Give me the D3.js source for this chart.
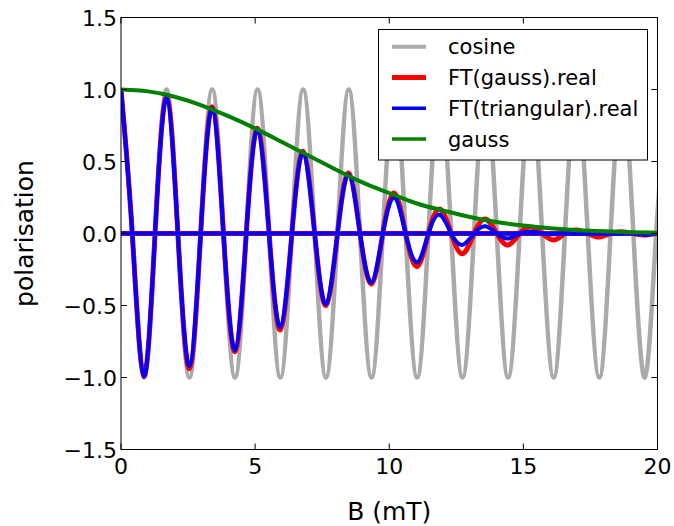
<!DOCTYPE html>
<html>
<head>
<meta charset="utf-8">
<script src="https://cdn.jsdelivr.net/npm/d3@7"></script>
<style>
  body { margin: 0; background: #fff; }
  text { font-family: "DejaVu Sans", sans-serif; fill: #000; }
</style>
</head>
<body>
<script>
// knots every quarter period of the cosine (B in mT)
const knotB = [0, 0.42, 0.85, 1.27, 1.70, 2.12, 2.55, 2.97, 3.40, 3.82, 4.25, 4.67, 5.09, 5.52, 5.94, 6.37,
  6.79, 7.22, 7.64, 8.07, 8.49, 8.91, 9.34, 9.76, 10.19, 10.61, 11.04, 11.46, 11.88, 12.31, 12.73, 13.16,
  13.58, 14.01, 14.43, 14.86, 15.28, 15.70, 16.13, 16.55, 16.98, 17.40, 17.83, 18.25, 18.68, 19.10, 19.53, 19.95, 20.38];

const cosineVals = [1, 0, -1, 0, 1, 0, -1, 0, 1, 0, -1, 0, 1, 0, -1, 0,
  1, 0, -1, 0, 1, 0, -1, 0, 1, 0, -1, 0, 1, 0, -1, 0,
  1, 0, -1, 0, 1, 0, -1, 0, 1, 0, -1, 0, 1, 0, -1, 0, 1];

const ftGaussVals = [1, 0, -0.99, 0, 0.95, 0, -0.94, 0, 0.88, 0, -0.82, 0, 0.73, 0, -0.67, 0,
  0.57, 0, -0.50, 0, 0.42, 0, -0.35, 0, 0.28, 0, -0.23, 0, 0.17, 0, -0.14, 0,
  0.10, 0, -0.08, 0, 0.045, 0, -0.045, 0, 0.025, 0, -0.025, 0, 0.012, 0, -0.01, 0, 0.005];

const ftTriVals = [1, 0, -0.99, 0, 0.94, 0, -0.92, 0, 0.87, 0, -0.81, 0, 0.72, 0, -0.65, 0,
  0.56, 0, -0.49, 0, 0.41, 0, -0.34, 0, 0.25, 0, -0.20, 0, 0.13, 0, -0.08, 0,
  0.05, 0, -0.035, 0, 0.012, 0, -0.005, 0, 0, 0, 0, 0, 0, 0, -0.01, 0, -0.01];

const gaussB = [0, 1, 2, 3, 4, 5, 6, 7, 8, 9, 10, 11, 12, 13, 14, 15, 16, 17, 18, 19, 20];
const gaussVals = [1.0, 0.987, 0.95, 0.89, 0.815, 0.73, 0.635, 0.54, 0.445, 0.355, 0.28,
  0.21, 0.16, 0.115, 0.08, 0.055, 0.036, 0.023, 0.015, 0.009, 0.006];

const zeroB = [0, 20];
const zeroVals = [0, 0];

const xTicks = [0, 5, 10, 15, 20];
const yTicks = [-1.5, -1.0, -0.5, 0.0, 0.5, 1.0, 1.5];

const legendNames = ["cosine", "FT(gauss).real", "FT(triangular).real", "gauss"];
const legendColors = ["#aaaaaa", "#ff0000", "#0000ff", "#008000"];
const legendWidths = [4, 5, 3.5, 3.5];

const width = 674, height = 526;
const margin = {left: 121, right: 16.5, top: 17.5, bottom: 76.5};

const svg = d3.select("body")
    .append("svg")
    .attr("width", width)
    .attr("height", height);

const x = d3.scaleLinear().domain([0, 20]).range([margin.left, width - margin.right]);
const y = d3.scaleLinear().domain([-1.5, 1.5]).range([height - margin.bottom, margin.top]);

svg.append("clipPath").attr("id", "plot-clip")
  .append("rect")
    .attr("x", x(0)).attr("y", y(1.5))
    .attr("width", x(20) - x(0)).attr("height", y(-1.5) - y(1.5));

const plot = svg.append("g").attr("clip-path", "url(#plot-clip)");

const line = d3.line()
    .x(d => x(d[0]))
    .y(d => y(d[1]))
    .curve(d3.curveNatural);

function drawSeries(bs, vals, color, w) {
  plot.append("path")
      .datum(d3.zip(bs, vals))
      .attr("fill", "none")
      .attr("stroke", color)
      .attr("stroke-width", w)
      .attr("stroke-linejoin", "round")
      .attr("d", line);
}

drawSeries(knotB, cosineVals, legendColors[0], legendWidths[0] + 0.5);
drawSeries(zeroB, zeroVals, legendColors[1], legendWidths[1]);
drawSeries(knotB, ftGaussVals, legendColors[1], legendWidths[1]);
drawSeries(zeroB, zeroVals, legendColors[2], legendWidths[2] + 0.5);
drawSeries(knotB, ftTriVals, legendColors[2], legendWidths[2] + 0.5);
drawSeries(gaussB, gaussVals, legendColors[3], legendWidths[3] + 0.5);

// frame and inward ticks on all four sides
const frame = svg.append("g").attr("stroke", "#000").attr("stroke-width", 1).attr("fill", "none");
frame.append("rect")
    .attr("x", x(0)).attr("y", y(1.5))
    .attr("width", x(20) - x(0)).attr("height", y(-1.5) - y(1.5));

const tickLen = 6;
xTicks.forEach(t => {
  frame.append("line").attr("x1", x(t)).attr("x2", x(t)).attr("y1", y(-1.5)).attr("y2", y(-1.5) - tickLen);
  frame.append("line").attr("x1", x(t)).attr("x2", x(t)).attr("y1", y(1.5)).attr("y2", y(1.5) + tickLen);
});
yTicks.forEach(t => {
  frame.append("line").attr("x1", x(0)).attr("x2", x(0) + tickLen).attr("y1", y(t)).attr("y2", y(t));
  frame.append("line").attr("x1", x(20)).attr("x2", x(20) - tickLen).attr("y1", y(t)).attr("y2", y(t));
});

const fmt = d3.format(".1f");

svg.append("g").selectAll("text")
  .data(xTicks)
  .join("text")
    .attr("x", d => x(d))
    .attr("y", y(-1.5) + 24)
    .attr("text-anchor", "middle")
    .style("font-size", "22px")
    .text(d => d);

svg.append("g").selectAll("text")
  .data(yTicks)
  .join("text")
    .attr("x", x(0) - 4)
    .attr("y", d => y(d) + 8)
    .attr("text-anchor", "end")
    .style("font-size", "22px")
    .text(d => fmt(d));

svg.append("text")
    .attr("x", (x(0) + x(20)) / 2)
    .attr("y", 520)
    .attr("text-anchor", "middle")
    .style("font-size", "25px")
    .text("B (mT)");

svg.append("text")
    .attr("transform", `translate(33,${(y(1.5) + y(-1.5)) / 2}) rotate(-90)`)
    .attr("text-anchor", "middle")
    .style("font-size", "25px")
    .text("polarisation");

// legend
const legend = svg.append("g");
legend.append("rect")
    .attr("x", 378.5).attr("y", 29.5)
    .attr("width", 269).attr("height", 130.5)
    .attr("fill", "#fff")
    .attr("stroke", "#000")
    .attr("stroke-width", 1);

const rows = legend.selectAll("g.row")
  .data(legendNames)
  .join("g")
    .attr("class", "row")
    .attr("transform", (d, i) => `translate(0,${46.7 + i * 30.8})`);

rows.append("line")
    .attr("x1", 392).attr("x2", 426)
    .attr("stroke", (d, i) => legendColors[i])
    .attr("stroke-width", (d, i) => legendWidths[i]);

rows.append("text")
    .attr("x", 448)
    .attr("y", 7.5)
    .style("font-size", "21px")
    .text(d => d);
</script>
</body>
</html>
